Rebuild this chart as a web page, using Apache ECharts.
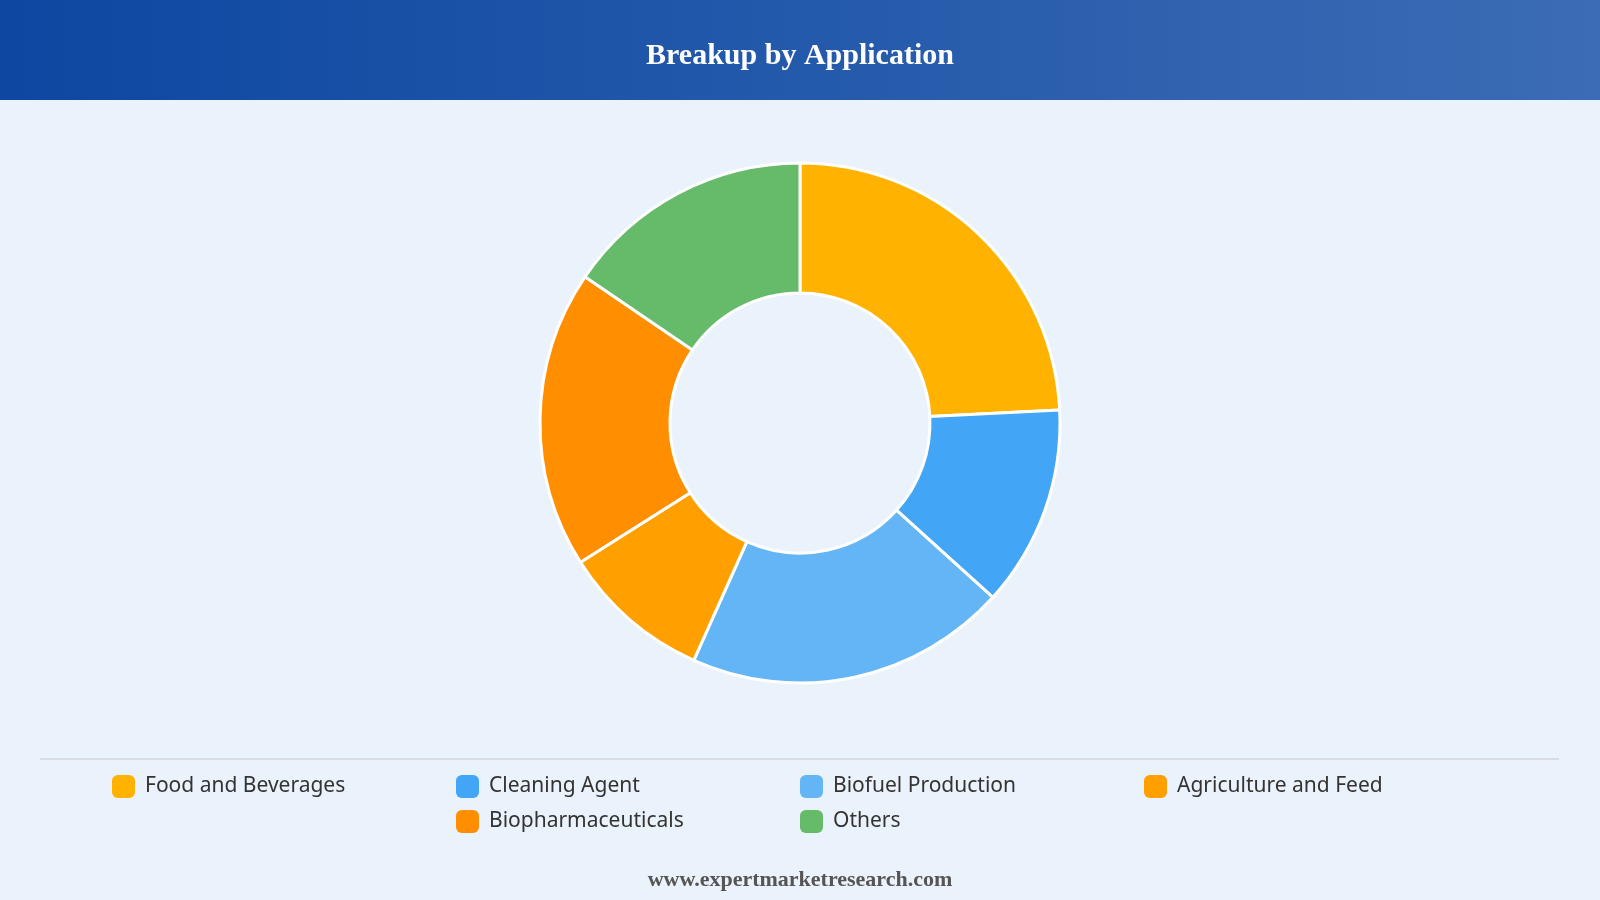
<!DOCTYPE html>
<html>
<head>
<meta charset="utf-8">
<script src="https://cdn.jsdelivr.net/npm/echarts@6/dist/echarts.min.js"></script>
<style>
  html, body { margin: 0; padding: 0; background: #eaf2fb; }
  #main { width: 1600px; height: 900px; }
</style>
</head>
<body>
<div id="main"></div>
<script>
var categories = ['Food and Beverages', 'Cleaning Agent', 'Biofuel Production', 'Agriculture and Feed', 'Biopharmaceuticals', 'Others'];
var shares = [24.2, 12.5, 20.0, 9.3, 18.5, 15.5];
var colors = ['#ffb300', '#42a5f5', '#64b5f6', '#ffa000', '#ff8f00', '#66bb6a'];

window.onload = function () {
	var myChart = echarts.init(document.getElementById('main'));

	var pieData = categories.map(function (name, i) {
		return { name: name, value: shares[i], itemStyle: { color: colors[i] } };
	});

	// legend grid: 4 columns of 344px, second row centred (starts at column 2)
	var slots = [[0, 0], [1, 0], [2, 0], [3, 0], [1, 1], [2, 1]];
	var legends = categories.map(function (name, i) {
		return {
			data: [name],
			left: 107 + slots[i][0] * 344,
			top: 770 + slots[i][1] * 35,
			itemWidth: 23,
			itemHeight: 23,
			icon: 'roundRect',
			itemStyle: { borderWidth: 0 },
			textStyle: {
				fontFamily: 'Noto Sans',
				fontSize: 21,
				color: '#333',
				padding: [0, 0, 0, 5]
			},
			selectedMode: false
		};
	});

	option = {
		backgroundColor: '#eaf2fb',
		title: {
			text: 'Breakup by Application',
			left: 'center',
			top: 36,
			textStyle: {
				fontFamily: 'Liberation Serif',
				fontWeight: 'bold',
				fontSize: 30,
				color: '#ffffff'
			}
		},
		graphic: [
			{
				type: 'rect',
				z: -1,
				shape: { x: 0, y: 0, width: 1600, height: 100 },
				style: {
					fill: new echarts.graphic.LinearGradient(0, 0, 1, 0, [
						{ offset: 0, color: '#0d47a1' },
						{ offset: 1, color: '#3b6cb5' }
					])
				}
			},
			{
				type: 'line',
				shape: { x1: 40, y1: 759, x2: 1559, y2: 759 },
				style: { stroke: '#d8dde4', lineWidth: 2 }
			},
			{
				type: 'text',
				left: 'center',
				top: 869,
				style: {
					text: 'www.expertmarketresearch.com',
					font: 'bold 22px "Liberation Serif"',
					fill: '#555555'
				}
			}
		],
		legend: legends,
		series: [
			{
				name: 'Application',
				type: 'pie',
				center: [800, 423],
				radius: [130, 260],
				startAngle: 90,
				clockwise: true,
				label: { show: false },
				labelLine: { show: false },
				itemStyle: { borderColor: '#ffffff', borderWidth: 3 },
				emphasis: { scale: false },
				data: pieData
			}
		]
	};

	myChart.setOption(option);
};
</script>
</body>
</html>
